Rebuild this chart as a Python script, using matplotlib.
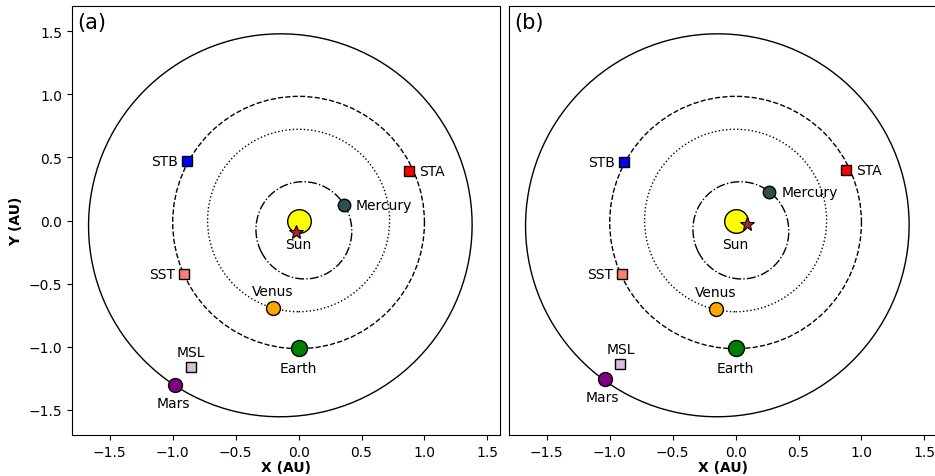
import matplotlib
matplotlib.use("Agg")
import matplotlib.pyplot as plt
from matplotlib.patches import Ellipse

# ---- data ----
orbit_names = ["Mercury", "Venus", "Earth", "Mars"]
orbit_cx = [0.042, 0.0, 0.0, -0.145]
orbit_cy = [-0.078, 0.0, -0.016, -0.038]
orbit_a = [0.387, 0.723, 1.0, 1.524]
orbit_b = [0.379, 0.723, 0.9999, 1.517]
orbit_angle = [-63, 0, 90, 15]
orbit_ls = ["-.", ":", "--", "-"]

body_names = ["Sun", "Mercury", "Venus", "Earth", "Mars"]
body_colors = ["yellow", "darkslategray", "orange", "green", "purple"]
body_sizes = [17, 9, 10, 11.5, 10]
body_x_a = [0.0, 0.36, -0.206, 0.0, -0.979]
body_y_a = [0.0, 0.125, -0.69, -1.01, -1.307]
body_x_b = [0.0, 0.267, -0.156, 0.0, -1.04]
body_y_b = [0.0, 0.228, -0.704, -1.01, -1.256]

star_a = (-0.024, -0.09)
star_b = (0.09, -0.026)

sc_names = ["STB", "STA", "SST", "MSL"]
sc_colors = ["blue", "red", "salmon", "thistle"]
sc_x_a = [-0.884, 0.876, -0.913, -0.857]
sc_y_a = [0.468, 0.394, -0.423, -1.161]
sc_x_b = [-0.884, 0.878, -0.905, -0.915]
sc_y_b = [0.463, 0.402, -0.426, -1.137]

# label placement (offset pixels, ha, va)
body_lab = {"Sun": ((0, -24), "center", "center"),
            "Mercury": ((12, 0), "left", "center"),
            "Venus": ((0, 17), "center", "center"),
            "Earth": ((0, -20), "center", "center"),
            "Mars": ((-2, -18), "center", "center")}
sc_lab = {"STB": ((-9, 0), "right", "center"),
          "STA": ((10, 0), "left", "center"),
          "SST": ((-9, 0), "right", "center"),
          "MSL": ((0, 15), "center", "center")}

fig = plt.figure(figsize=(9.35, 4.77), dpi=100)
W, H = 935, 477
ax_a = fig.add_axes([72 / W, 41 / H, 428 / W, 429 / H])
ax_b = fig.add_axes([509 / W, 41 / H, 428 / W, 429 / H])


def draw(ax, bx, by, sx, sy, star, tag):
    for cx, cy, a, b, ang, ls in zip(orbit_cx, orbit_cy, orbit_a, orbit_b, orbit_angle, orbit_ls):
        ax.add_patch(Ellipse((cx, cy), 2 * a, 2 * b, angle=ang, fill=False,
                             ec="black", lw=1.0, ls=ls, zorder=1))
    for n, c, s, x, y in zip(body_names, body_colors, body_sizes, bx, by):
        ax.plot([x], [y], "o", ms=s, mfc=c, mec="black", mew=1.0, zorder=3)
        (dx, dy), ha, va = body_lab[n]
        ax.annotate(n, (x, y), xytext=(dx, dy), textcoords="offset pixels",
                    ha=ha, va=va, fontsize=10, zorder=5)
    ax.plot([star[0]], [star[1]], "*", ms=10, mfc="firebrick", mec="black",
            mew=0.8, zorder=4)
    for n, c, x, y in zip(sc_names, sc_colors, sx, sy):
        ax.plot([x], [y], "s", ms=6.5, mfc=c, mec="black", mew=1.0, zorder=3)
        (dx, dy), ha, va = sc_lab[n]
        ax.annotate(n, (x, y), xytext=(dx, dy), textcoords="offset pixels",
                    ha=ha, va=va, fontsize=10, zorder=5)
    ax.set_xlim(-1.8, 1.6)
    ax.set_ylim(-1.7, 1.7)
    ax.set_xticks([-1.5, -1.0, -0.5, 0.0, 0.5, 1.0, 1.5])
    ax.set_yticks([-1.5, -1.0, -0.5, 0.0, 0.5, 1.0, 1.5])
    ax.tick_params(labelsize=10)
    ax.set_xlabel("X (AU)", fontsize=10, fontweight="bold", labelpad=1)
    ax.text(0.012, 0.985, tag, transform=ax.transAxes, fontsize=15,
            ha="left", va="top")


draw(ax_a, body_x_a, body_y_a, sc_x_a, sc_y_a, star_a, "(a)")
draw(ax_b, body_x_b, body_y_b, sc_x_b, sc_y_b, star_b, "(b)")
ax_a.set_ylabel("Y (AU)", fontsize=10, fontweight="bold")
ax_b.tick_params(left=False, labelleft=False)

fig.savefig("out.png", dpi=100)
